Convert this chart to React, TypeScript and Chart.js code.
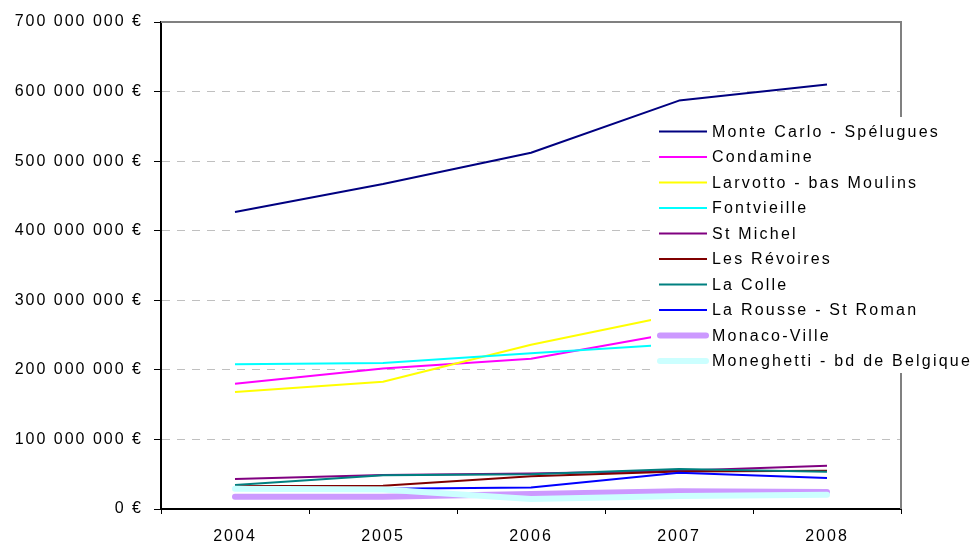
import React, { useEffect, useRef } from "react";
import { Chart, registerables } from "chart.js";

Chart.register(...registerables);

const years = ["2004", "2005", "2006", "2007", "2008"];

// values in millions of euros
const monteCarlo = [427, 467, 512, 587, 610];
const condamine = [180, 202, 216, 254, 272];
const larvotto = [168, 183, 236, 280, 305];
const fontvieille = [208, 210, 224, 237, 243];
const stMichel = [43, 49, 51, 55, 62];
const lesRevoires = [33, 33.5, 47, 54, 55];
const laColle = [34.5, 48.5, 50, 57.5, 53.6];
const laRousse = [29.5, 29, 31, 52, 44.6];
const monacoVille = [17.7, 17.7, 21.6, 25.4, 24.4];
const moneghetti = [29, 28, 14.4, 18.7, 20.6];

const seriesNames = [
  "Monte Carlo - Spélugues",
  "Condamine",
  "Larvotto - bas Moulins",
  "Fontvieille",
  "St Michel",
  "Les Révoires",
  "La Colle",
  "La Rousse - St Roman",
  "Monaco-Ville",
  "Moneghetti - bd de Belgique",
];
const seriesValues = [
  monteCarlo,
  condamine,
  larvotto,
  fontvieille,
  stMichel,
  lesRevoires,
  laColle,
  laRousse,
  monacoVille,
  moneghetti,
];
const seriesColors = [
  "#000080",
  "#FF00FF",
  "#FFFF00",
  "#00FFFF",
  "#800080",
  "#800000",
  "#008080",
  "#0000FF",
  "#CC99FF",
  "#CCFFFF",
];
const seriesWidths = [2, 2, 2, 2, 2, 2, 2, 2, 6, 6];

const yTicks = [0, 100, 200, 300, 400, 500, 600, 700];

const FONT = "'Liberation Sans', Arial, sans-serif";

function formatEuro(v: number): string {
  const s = Math.round(v).toString();
  return s.replace(/\B(?=(\d{3})+(?!\d))/g, " ") + " €";
}

const spacingPlugin = {
  id: "spacing",
  beforeDraw(chart: any) {
    (chart.ctx as any).letterSpacing = "2px";
  },
};

const framePlugin = {
  id: "frameAndLegend",
  afterDraw(chart: any) {
    const ctx = chart.ctx as CanvasRenderingContext2D;
    const a = chart.chartArea;
    ctx.save();
    // top and right frame
    ctx.strokeStyle = "#808080";
    ctx.lineWidth = 2;
    ctx.beginPath();
    ctx.moveTo(a.left, a.top);
    ctx.lineTo(a.right, a.top);
    ctx.lineTo(a.right, a.bottom);
    ctx.stroke();

    // legend
    const lx = 651;
    const ly = 117;
    ctx.fillStyle = "#ffffff";
    ctx.fillRect(lx, ly, chart.width - lx, 256);
    const rowH = 25.5;
    const firstY = 131.5;
    (ctx as any).letterSpacing = "2.22px";
    ctx.font = `16px ${FONT}`;
    ctx.textBaseline = "middle";
    ctx.textAlign = "left";
    seriesNames.forEach((name, i) => {
      const y = firstY + i * rowH;
      ctx.strokeStyle = seriesColors[i];
      ctx.lineWidth = seriesWidths[i];
      ctx.lineCap = seriesWidths[i] > 2 ? "round" : "butt";
      ctx.beginPath();
      if (seriesWidths[i] > 2) {
        ctx.moveTo(660, y);
        ctx.lineTo(706, y);
      } else {
        ctx.moveTo(659, y);
        ctx.lineTo(707, y);
      }
      ctx.stroke();
      ctx.fillStyle = "#000000";
      ctx.fillText(name, 712, y + 1);
    });
    ctx.restore();
  },
};

export default function App() {
  const canvasRef = useRef<HTMLCanvasElement | null>(null);

  useEffect(() => {
    const canvas = canvasRef.current;
    if (!canvas) return;
    const datasets = seriesNames.map((name, i) => ({
      label: name,
      data: seriesValues[i].map((v) => v * 1e6),
      borderColor: seriesColors[i],
      backgroundColor: seriesColors[i],
      borderWidth: seriesWidths[i],
      borderCapStyle: (seriesWidths[i] > 2 ? "round" : "butt") as any,
      borderJoinStyle: "round" as any,
      pointRadius: 0,
      pointHoverRadius: 0,
      tension: 0,
      fill: false,
      order: seriesNames.length - i,
    }));
    const chart = new Chart(canvas, {
      type: "line",
      data: { labels: years, datasets },
      plugins: [spacingPlugin, framePlugin],
      options: {
        animation: false,
        responsive: false,
        devicePixelRatio: 1,
        events: [],
        layout: { padding: { top: 22, right: 74, left: 0, bottom: 0 } },
        plugins: {
          legend: { display: false },
          tooltip: { enabled: false },
          title: { display: false },
        },
        scales: {
          x: {
            type: "category",
            offset: true,
            grid: {
              offset: true,
              drawOnChartArea: false,
              drawTicks: true,
              tickLength: 5,
              tickColor: "#000000",
              tickWidth: 1,
            },
            border: { display: true, color: "#000000", width: 2 },
            ticks: {
              color: "#000000",
              font: { family: FONT, size: 16 },
              padding: 13,
              maxRotation: 0,
            },
            afterFit(scale: any) {
              scale.height = 35;
            },
          },
          y: {
            type: "linear",
            min: 0,
            max: 700e6,
            afterBuildTicks(scale: any) {
              scale.ticks = yTicks.map((v) => ({ value: v * 1e6 }));
            },
            grid: {
              color: (c: any) =>
                c.tick && (c.tick.value === 0 || c.tick.value === 700e6)
                  ? "rgba(0,0,0,0)"
                  : "#c0c0c0",
              lineWidth: 1,
              drawTicks: true,
              tickLength: 7,
              tickColor: "#000000",
              tickWidth: 1,
            },
            border: { display: true, color: "#000000", width: 2, dash: [8, 7] },
            ticks: {
              color: "#000000",
              font: { family: FONT, size: 16 },
              padding: 11,
              callback: (v: any) => formatEuro(Number(v)),
            },
            afterFit(scale: any) {
              scale.width = 161;
            },
          },
        },
      },
    });
    return () => chart.destroy();
  }, []);

  return (
    <div style={{ position: "fixed", left: 0, top: 0, width: 975, height: 544, background: "#fff" }}>
      <canvas ref={canvasRef} width={975} height={544} style={{ display: "block", width: 975, height: 544 }} />
    </div>
  );
}
